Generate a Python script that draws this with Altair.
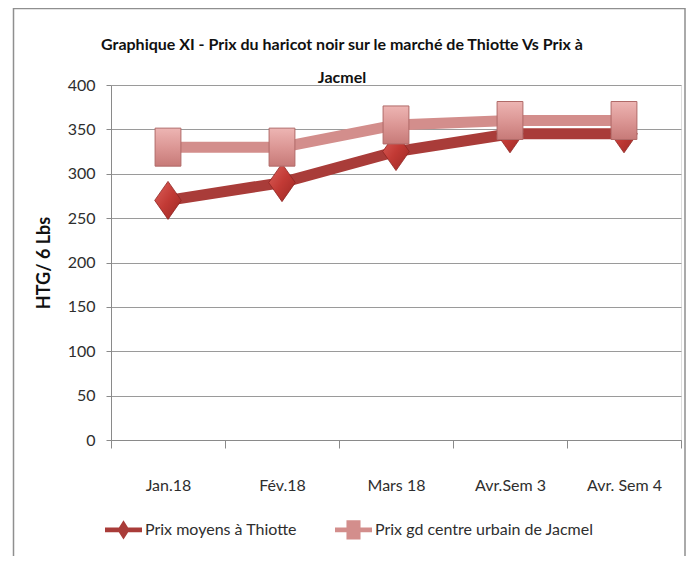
import altair as alt
import pandas as pd

categories = ["Jan.18", "Fév.18", "Mars 18", "Avr.Sem 3", "Avr. Sem 4"]
thiotte = [270, 290, 325, 345, 345]
jacmel = [330, 330, 355, 360, 360]
series_names = ["Prix moyens à Thiotte", "Prix gd centre urbain de Jacmel"]
y_ticks = [0, 50, 100, 150, 200, 250, 300, 350, 400]
title_lines = ["Graphique XI - Prix du haricot noir sur le marché de Thiotte Vs Prix à", "Jacmel"]

rows = []
for c, v in zip(categories, thiotte):
    rows.append({"mois": c, "prix": v, "serie": series_names[0]})
for c, v in zip(categories, jacmel):
    rows.append({"mois": c, "prix": v, "serie": series_names[1]})
df = pd.DataFrame(rows)

FONT = "Lato"
TEXT = "#2e2e2e"
line_colors = ["#A93C39", "#D38E8C"]

# custom legend symbols: line segment + marker
legend_paths = [
    "M-1,-0.13 L1,-0.13 L1,0.13 L-1,0.13 Z M0,-0.52 L0.33,0 L0,0.52 L-0.33,0 Z",
    "M-1,-0.13 L1,-0.13 L1,0.13 L-1,0.13 Z M-0.38,-0.52 L0.38,-0.52 L0.38,0.52 L-0.38,0.52 Z",
]
diamond_path = "M0,-1 L0.7,0 L0,1 L-0.7,0 Z"
rect_path = "M-0.68,-1 L0.68,-1 L0.68,1 L-0.68,1 Z"

x_enc = alt.X(
    "mois:N",
    sort=categories,
    scale=alt.Scale(type="band", paddingInner=0, paddingOuter=0),
    axis=alt.Axis(
        title=None, tickBand="extent", labelAngle=0, grid=False,
        labelFont=FONT, labelFontSize=16, labelFontWeight="normal", labelColor=TEXT,
        domainColor="#8a8a8a", tickColor="#8a8a8a", tickSize=8, labelPadding=29,
    ),
)
y_enc = alt.Y(
    "prix:Q",
    scale=alt.Scale(domain=[0, 400], nice=False, zero=True),
    axis=alt.Axis(
        values=y_ticks, title="HTG/ 6 Lbs", titleFont=FONT, titleFontSize=18,
        titleFontWeight="bold", titleColor="#111111", titlePadding=14,
        labelFont=FONT, labelFontSize=16, labelFontWeight="normal", labelColor=TEXT,
        domainColor="#8a8a8a", tickColor="#8a8a8a", tickSize=5, labelPadding=11,
        grid=True, gridColor="#9a9a9a", gridWidth=1,
    ),
)

base = alt.Chart(df)

line_t = base.transform_filter(alt.datum.serie == series_names[0]).mark_line(
    strokeWidth=11, color=line_colors[0]
).encode(x=x_enc, y=y_enc)

line_j = base.transform_filter(alt.datum.serie == series_names[1]).mark_line(
    strokeWidth=11, color=line_colors[1]
).encode(x=x_enc, y=y_enc)

diamond_fill = alt.Gradient(
    gradient="linear", x1=0, y1=0, x2=1, y2=1,
    stops=[
        alt.GradientStop(color="#DC625C", offset=0),
        alt.GradientStop(color="#C23A35", offset=0.5),
        alt.GradientStop(color="#9B2824", offset=1),
    ],
)
rect_fill = alt.Gradient(
    gradient="linear", x1=0, y1=0, x2=0, y2=1,
    stops=[
        alt.GradientStop(color="#EDB5B3", offset=0),
        alt.GradientStop(color="#DC9795", offset=0.5),
        alt.GradientStop(color="#C77A78", offset=1),
    ],
)

pts_t = base.transform_filter(alt.datum.serie == series_names[0]).mark_point(
    shape=diamond_path, size=1444, filled=True, fill=diamond_fill,
    stroke="#8E2522", strokeWidth=0.8, opacity=1,
).encode(x=x_enc, y=y_enc)

pts_j = base.transform_filter(alt.datum.serie == series_names[1]).mark_point(
    shape=rect_path, size=1444, filled=True, fill=rect_fill,
    stroke="#B06A68", strokeWidth=1, opacity=1,
).encode(x=x_enc, y=y_enc)

legend_def = alt.Legend(
    title=None, orient="none", legendX=-6, legendY=426, direction="horizontal",
    symbolSize=1369, symbolStrokeWidth=0, labelFont=FONT, labelFontSize=16,
    labelColor=TEXT, labelOffset=3, columnPadding=38, padding=0,
    labelLimit=400, symbolOpacity=1,
)
legend_layer = base.transform_filter("datum.prix < 0").mark_point(filled=True).encode(
    x=x_enc,
    y=y_enc,
    color=alt.Color("serie:N", scale=alt.Scale(domain=series_names, range=line_colors), legend=legend_def),
    shape=alt.Shape("serie:N", scale=alt.Scale(domain=series_names, range=legend_paths), legend=legend_def),
)

frame = alt.Chart(pd.DataFrame({"a": [0]})).mark_rect(
    fill="transparent", stroke="#8f8f8f", strokeWidth=1.5
).encode(
    x=alt.value(-97.5), x2=alt.value(574), y=alt.value(0.5 - 77), y2=alt.value(520)
)

chart = alt.layer(frame, line_t, pts_t, line_j, pts_j, legend_layer).properties(
    width=570,
    height=355,
    autosize=alt.AutoSizeParams(type="none"),
    padding={"left": 103, "top": 77, "right": 5, "bottom": 116},
    title=alt.Title(
        title_lines, font=FONT, fontSize=16, fontWeight="bold", color="#111111",
        anchor="middle", frame="group", dx=-54, offset=-78, lineHeight=33,
    ),
).configure_view(strokeWidth=0).configure(background="white")

chart.save("out.html", embed_options={"renderer": "svg", "actions": False})
